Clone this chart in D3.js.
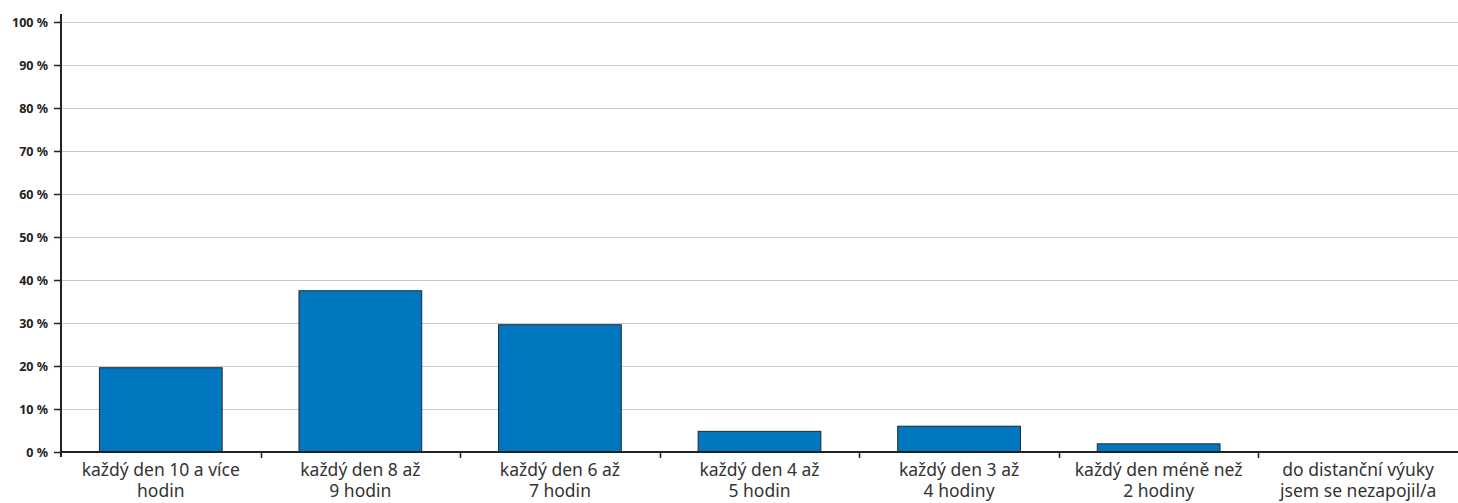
<!DOCTYPE html>
<html><head><meta charset="utf-8">
<script src="https://cdn.jsdelivr.net/npm/d3@7/dist/d3.min.js"></script>
<style>body{margin:0;background:#fff}svg{display:block}</style>
</head><body><svg id="c" width="1458" height="503"></svg>
<script>
const categories = [
  ["každý den 10 a více","hodin"],
  ["každý den 8 až","9 hodin"],
  ["každý den 6 až","7 hodin"],
  ["každý den 4 až","5 hodin"],
  ["každý den 3 až","4 hodiny"],
  ["každý den méně než","2 hodiny"],
  ["do distanční výuky","jsem se nezapojil/a"]
];
const values = [19.6, 37.5, 29.6, 4.8, 6.0, 1.9, 0];
const yTicks = [0,10,20,30,40,50,60,70,80,90,100];

const W=1458,H=503,m={l:61,r:0,t:22,b:51};
const svg=d3.select("#c");
const x=d3.scaleBand().domain(d3.range(categories.length)).range([m.l,W-m.r]).paddingInner(0.38).paddingOuter(0.19);
const y=d3.scaleLinear().domain([0,100]).range([H-m.b,m.t]);
const font="'Noto Sans','Open Sans',sans-serif";

// gridlines
svg.append("g").selectAll("line").data(yTicks.filter(d=>d>0)).join("line")
  .attr("x1",m.l).attr("x2",W).attr("y1",d=>y(d)+0.5).attr("y2",d=>y(d)+0.5)
  .attr("stroke","#c8c8c8").attr("stroke-width",1.2);

// bars
svg.append("g").selectAll("rect").data(values).join("rect")
  .attr("x",(d,i)=>x(i)+0.5).attr("width",x.bandwidth()-1)
  .attr("y",d=>y(d)).attr("height",d=>y(0)-y(d))
  .attr("fill","#0077bf").attr("stroke","#1f2a33").attr("stroke-width",1)
  .style("display",d=>d>0?null:"none");

// y axis
const ya=svg.append("g").attr("transform",`translate(${m.l},0)`)
  .call(d3.axisLeft(y).tickValues(yTicks).tickFormat(d=>d+" %").tickSize(7).tickPadding(6));
ya.select(".domain").remove();
ya.selectAll(".tick line").attr("stroke","#222").attr("stroke-width",1.5);
ya.selectAll(".tick text").attr("font-family",font).attr("font-size",12.5).attr("font-weight","bold").attr("fill","#222");
svg.append("line").attr("x1",m.l).attr("x2",m.l).attr("y1",14).attr("y2",y(0)+5)
  .attr("stroke","#222").attr("stroke-width",2);

// x axis
svg.append("line").attr("x1",m.l).attr("x2",W).attr("y1",y(0)).attr("y2",y(0))
  .attr("stroke","#222").attr("stroke-width",2);
const step=x.step();
const bounds=d3.range(1,categories.length).map(i=>x(i)-x.paddingInner()*step/2);
svg.append("g").selectAll("line").data(bounds).join("line")
  .attr("x1",d=>Math.round(d)+0.5).attr("x2",d=>Math.round(d)+0.5).attr("y1",y(0)).attr("y2",y(0)+6)
  .attr("stroke","#222").attr("stroke-width",1.5);

const lab=svg.append("g").selectAll("text").data(categories).join("text")
  .attr("x",(d,i)=>x(i)+x.bandwidth()/2).attr("y",476)
  .attr("text-anchor","middle").attr("font-family",font).attr("font-size",17.5).attr("fill","#333");
lab.selectAll("tspan").data(d=>d).join("tspan")
  .attr("x",function(){return this.parentNode.getAttribute("x");})
  .attr("dy",(d,i)=>i?20.5:0).text(d=>d);
</script></body></html>
